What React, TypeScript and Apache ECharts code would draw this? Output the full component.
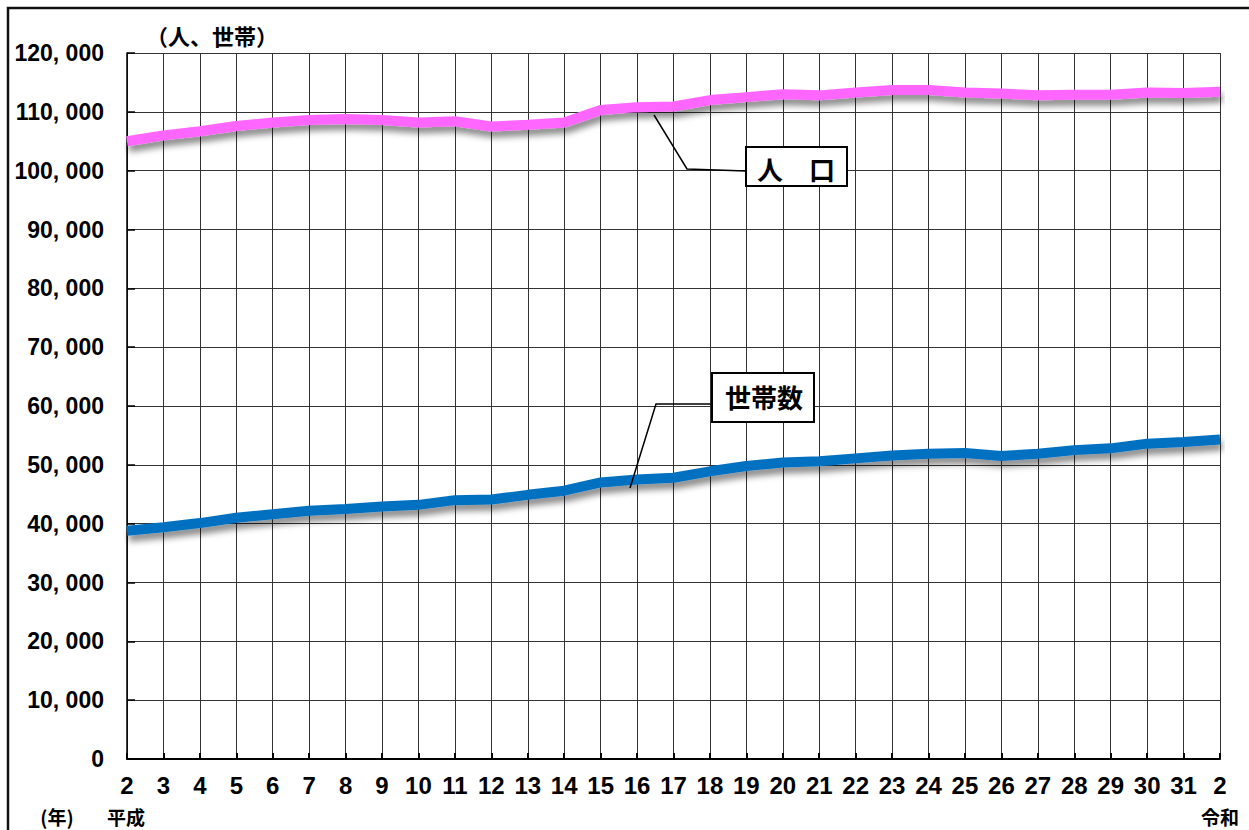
import React, { useEffect, useRef } from 'react';
import * as echarts from 'echarts';

// 年次（平成2年〜平成31年、令和2年）
const categories = [
  'H2', 'H3', 'H4', 'H5', 'H6', 'H7', 'H8', 'H9', 'H10', 'H11', 'H12', 'H13', 'H14', 'H15', 'H16',
  'H17', 'H18', 'H19', 'H20', 'H21', 'H22', 'H23', 'H24', 'H25', 'H26', 'H27', 'H28', 'H29', 'H30', 'H31', 'R2',
];
const tickLabels = [
  '2', '3', '4', '5', '6', '7', '8', '9', '10', '11', '12', '13', '14', '15', '16',
  '17', '18', '19', '20', '21', '22', '23', '24', '25', '26', '27', '28', '29', '30', '31', '2',
];
// 人口
const population = [
  105000, 106000, 106700, 107600, 108200, 108600, 108800, 108600, 108200, 108400, 107500, 107800, 108200, 110300, 110800,
  110900, 112000, 112500, 113000, 112800, 113300, 113700, 113700, 113300, 113100, 112800, 112900, 112900, 113300, 113200, 113400,
];
// 世帯数
const households = [
  38800, 39400, 40100, 41000, 41600, 42200, 42500, 42900, 43200, 44000, 44100, 44900, 45600, 47000, 47500,
  47800, 48900, 49800, 50400, 50600, 51100, 51600, 51900, 52000, 51500, 51900, 52500, 52800, 53600, 53900, 54300,
];

const NUM_FONT = "'Liberation Sans', Arial, sans-serif";
const CJK_FONT = "'Noto Sans CJK JP', 'Noto Sans CJK SC', sans-serif";

export default function App() {
  const ref = useRef<HTMLDivElement>(null);

  useEffect(() => {
    document.body.style.margin = '0';
    document.body.style.overflow = 'hidden';
    if (!ref.current) return;
    const chart = echarts.init(ref.current, null, { renderer: 'svg' });

    const cjkText = (text: string, x: number, y: number, size: number, align = 'center') => ({
      type: 'text',
      z: 100,
      style: {
        text,
        x,
        y,
        fill: '#000',
        fontSize: size,
        fontWeight: 'bold',
        fontFamily: CJK_FONT,
        textAlign: align,
        textVerticalAlign: 'middle',
      },
    });

    chart.setOption({
      animation: false,
      backgroundColor: '#fff',
      grid: { left: 127, right: 29, top: 53, bottom: 71, containLabel: false, outerBoundsMode: 'none' },
      xAxis: {
        type: 'category',
        data: categories,
        boundaryGap: false,
        axisLine: { show: true, lineStyle: { color: '#000', width: 2 } },
        axisTick: { show: true, inside: true, length: 6, lineStyle: { color: '#000', width: 2 } },
        splitLine: { show: true, lineStyle: { color: '#333', width: 1 } },
        axisLabel: {
          interval: 0,
          margin: 14,
          color: '#000',
          fontSize: 24,
          lineHeight: 24,
          fontWeight: 'bold',
          fontFamily: NUM_FONT,
          hideOverlap: false,
          formatter: (_v: string, i: number) => tickLabels[i],
        },
      },
      yAxis: {
        type: 'value',
        min: 0,
        max: 120000,
        interval: 10000,
        axisLine: { show: true, lineStyle: { color: '#000', width: 1.5 } },
        axisTick: { show: true, inside: true, length: 8, lineStyle: { color: '#000', width: 1.5 } },
        splitLine: { show: true, lineStyle: { color: '#333', width: 1 } },
        axisLabel: {
          margin: 23,
          color: '#000',
          fontSize: 23,
          fontWeight: 'bold',
          fontFamily: NUM_FONT,
          formatter: (v: number) => (v === 0 ? '0' : v.toLocaleString('en-US').replace(/,/g, ', ')),
        },
      },
      series: [
        {
          name: '人口',
          type: 'line',
          data: population,
          symbol: 'none',
          z: 5,
          lineStyle: {
            color: '#FF66FF',
            width: 10,
            shadowColor: 'rgba(0,0,0,0.45)',
            shadowBlur: 6,
            shadowOffsetX: 2,
            shadowOffsetY: 6,
          },
        },
        {
          name: '世帯数',
          type: 'line',
          data: households,
          symbol: 'none',
          z: 5,
          lineStyle: {
            color: '#0070C0',
            width: 10,
            shadowColor: 'rgba(0,0,0,0.45)',
            shadowBlur: 6,
            shadowOffsetX: 2,
            shadowOffsetY: 6,
          },
        },
      ],
      graphic: [
        {
          type: 'polyline',
          z: 100,
          shape: { points: [[8, 840], [8, 8], [1260, 8]] },
          style: { stroke: '#111', lineWidth: 2.5, fill: 'none' },
        },
        cjkText('（人、世帯）', 212, 35, 22),
        cjkText('(年)', 57, 816, 19),
        cjkText('平成', 126, 816, 19),
        cjkText('令和', 1220, 816, 19),
        {
          type: 'polyline',
          z: 100,
          shape: { points: [[654, 115], [687, 169], [746, 171]] },
          style: { stroke: '#000', lineWidth: 1.5, fill: 'none' },
        },
        {
          type: 'rect',
          z: 100,
          shape: { x: 746, y: 147, width: 101, height: 39 },
          style: { fill: '#fff', stroke: '#000', lineWidth: 2 },
        },
        cjkText('人　口', 796, 168, 26),
        {
          type: 'polyline',
          z: 100,
          shape: { points: [[630, 488], [656, 404], [712, 404]] },
          style: { stroke: '#000', lineWidth: 1.5, fill: 'none' },
        },
        {
          type: 'rect',
          z: 100,
          shape: { x: 712, y: 373, width: 102, height: 49 },
          style: { fill: '#fff', stroke: '#000', lineWidth: 2 },
        },
        cjkText('世帯数', 764, 396, 26),
      ],
    });

    return () => chart.dispose();
  }, []);

  return <div ref={ref} style={{ width: 1249, height: 830 }} />;
}
